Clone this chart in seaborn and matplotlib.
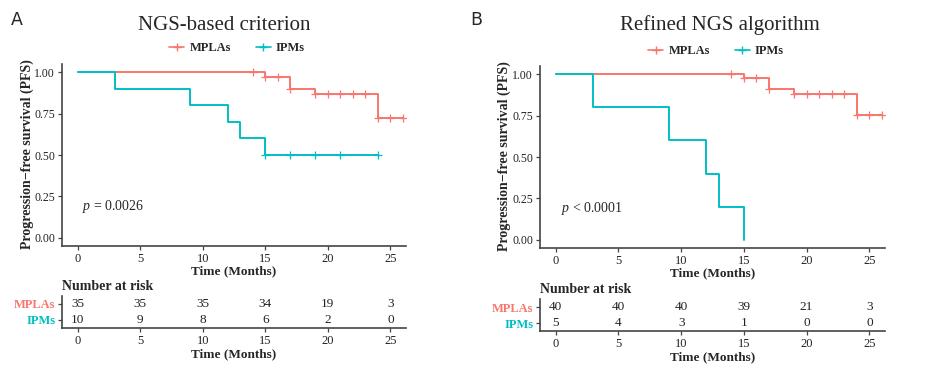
import numpy as np
import pandas as pd
import seaborn as sns
import matplotlib.pyplot as plt
from matplotlib.lines import Line2D

# datos (curvas KM)
A_mpla_time = [0, 15, 17, 19, 24, 26]
A_mpla_surv = [1.0, 0.970, 0.901, 0.866, 0.722, 0.722]
A_mpla_cens = [14, 15, 16, 17, 19, 20, 21, 22, 23, 24, 25, 26]
A_ipm_time = [0, 3, 9, 12, 13, 15, 24]
A_ipm_surv = [1.0, 0.9, 0.8, 0.7, 0.6, 0.5, 0.5]
A_ipm_cens = [15, 17, 19, 21, 24]

B_mpla_time = [0, 15, 17, 19, 24, 26]
B_mpla_surv = [1.0, 0.975, 0.914, 0.881, 0.755, 0.755]
B_mpla_cens = [14, 15, 16, 17, 19, 20, 21, 22, 23, 24, 25, 26]
B_ipm_time = [0, 3, 9, 12, 13, 15]
B_ipm_surv = [1.0, 0.8, 0.6, 0.4, 0.2, 0.0]
B_ipm_cens = []

risk_times = [0, 5, 10, 15, 20, 25]
A_risk_mpla = [35, 35, 35, 34, 19, 3]
A_risk_ipm = [10, 9, 8, 6, 2, 0]
B_risk_mpla = [40, 40, 40, 39, 21, 3]
B_risk_ipm = [5, 4, 3, 1, 0, 0]

grupos = ["MPLAs", "IPMs"]
colores = {"MPLAs": "#F8766D", "IPMs": "#00BFC4"}

sns.set_theme(style="ticks")
plt.rcParams['font.family'] = ['Liberation Serif', 'DejaVu Serif']
plt.rcParams['mathtext.fontset'] = 'custom'
plt.rcParams['mathtext.rm'] = 'Liberation Serif'
plt.rcParams['mathtext.it'] = 'Liberation Serif:italic'

W, H = 942, 369
fig = plt.figure(figsize=(W / 100, H / 100), dpi=100)


def caja(l, r, t, b):
    return [l / W, 1 - b / H, (r - l) / W, (b - t) / H]


def valor_en(times, surv, t):
    idx = np.searchsorted(times, t, side="right") - 1
    return surv[idx]


def estilo_ejes(ax, tam=8.5):
    sns.despine(ax=ax)
    for s in ["left", "bottom"]:
        ax.spines[s].set_color("#444444")
        ax.spines[s].set_linewidth(1.2)
    ax.tick_params(colors="#444444", labelcolor="#222222", length=3, width=0.9,
                   labelsize=tam, pad=2)


def panel(caja_main, caja_tab, curvas, riesgo, titulo, tit_x, leg_x, leg_y,
          ptexto, ylab_x):
    ax = fig.add_axes(caja(*caja_main))
    for g, (tt, ss, cc) in curvas.items():
        df = pd.DataFrame({"time": tt, "surv": ss})
        sns.lineplot(data=df, x="time", y="surv", ax=ax, color=colores[g],
                     drawstyle="steps-post", estimator=None, sort=False, lw=1.4)
        if len(cc) > 0:
            dc = pd.DataFrame({"time": cc, "surv": [valor_en(tt, ss, c) for c in cc]})
            sns.scatterplot(data=dc, x="time", y="surv", ax=ax, marker="+",
                            color=colores[g], s=30, linewidth=0.9, zorder=3)
    ax.set_xlim(-1.25, 26.25)
    ax.set_ylim(-0.05, 1.05)
    ax.set_xticks(risk_times)
    ax.set_yticks([0, 0.25, 0.5, 0.75, 1.0])
    ax.set_yticklabels(["0.00", "0.25", "0.50", "0.75", "1.00"])
    ax.set_xlabel("Time (Months)", fontsize=9.5, fontweight="bold", labelpad=0)
    ax.set_ylabel("")
    estilo_ejes(ax, 9)
    ax.tick_params(axis="y", labelsize=8.5)
    ax.text(ptexto[0], ptexto[1], ptexto[2], fontsize=10, va="center", ha="left")
    fig.text(ylab_x / W, 1 - ((caja_main[2] + caja_main[3]) / 2 - 1) / H,
             "Progression\u2212free survival (PFS)", rotation=90, fontsize=10,
             fontweight="bold", ha="center", va="center")

    fig.text(tit_x / W, 1 - 25 / H, titulo, fontsize=15, ha="center", va="center")

    handles = [Line2D([0], [0], color=colores[g], marker="+", lw=1.2, markersize=6)
               for g in grupos]
    fig.legend(handles, grupos, loc="center", bbox_to_anchor=(leg_x / W, 1 - leg_y / H),
               ncol=2, frameon=False, handlelength=1.2, handletextpad=0.4,
               columnspacing=2.0, prop={"family": "Liberation Serif", "weight": "bold",
                                         "size": 9})

    # tabla de numero en riesgo
    at = fig.add_axes(caja(*caja_tab))
    filas = [riesgo[0], riesgo[1]]
    for k, (g, vals) in enumerate(zip(grupos, filas)):
        for t, v in zip(risk_times, vals):
            at.text(t, 2 - k, str(v), ha="center", va="center", fontsize=9.5,
                    color="#222222")
    at.set_xlim(-1.25, 26.25)
    at.set_ylim(0.5, 2.5)
    at.set_xticks(risk_times)
    at.set_yticks([2, 1])
    at.set_yticklabels(grupos, fontweight="bold")
    estilo_ejes(at, 9)
    at.tick_params(axis="y", labelsize=9)
    for lab, g in zip(at.get_yticklabels(), grupos):
        lab.set_color(colores[g])
    at.set_xlabel("Time (Months)", fontsize=9.5, fontweight="bold", labelpad=1)
    at.set_title("Number at risk", loc="left", fontsize=10, fontweight="bold",
                 pad=4, x=0.0)
    return ax, at


panel((62, 406, 64, 246), (62, 406, 296, 328),
      {"MPLAs": (A_mpla_time, A_mpla_surv, A_mpla_cens),
       "IPMs": (A_ipm_time, A_ipm_surv, A_ipm_cens)},
      (A_risk_mpla, A_risk_ipm), "NGS-based criterion", 224, 237, 48,
      (0.35, 0.19, "$p$ = 0.0026"), 27)

panel((540, 885, 66, 248), (540, 885, 299, 331),
      {"MPLAs": (B_mpla_time, B_mpla_surv, B_mpla_cens),
       "IPMs": (B_ipm_time, B_ipm_surv, B_ipm_cens)},
      (B_risk_mpla, B_risk_ipm), "Refined NGS algorithm", 720, 716, 51,
      (0.45, 0.19, "$p$ < 0.0001"), 504)

fig.text(17 / W, 1 - 20 / H, "A", fontsize=12.5, family="DejaVu Sans",
         ha="center", va="center")
fig.text(476 / W, 1 - 20 / H, "B", fontsize=12.5, family="DejaVu Sans",
         ha="center", va="center")

fig.savefig("out.png", dpi=100, facecolor="white")
